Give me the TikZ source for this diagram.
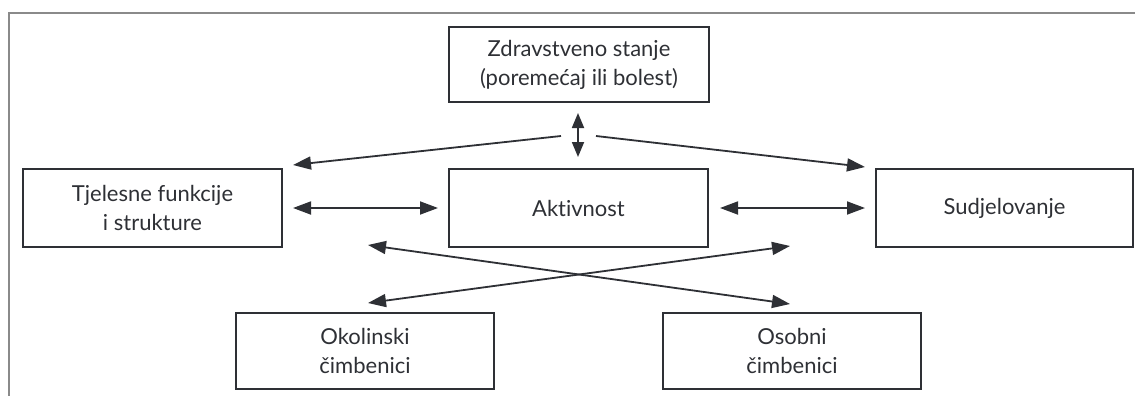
\documentclass[tikz,border=0pt]{standalone}
\usepackage{fontspec}
\setmainfont{Lato}[Ligatures={NoCommon,TeX}]
\usetikzlibrary{arrows.meta}
\definecolor{ink}{HTML}{2E3035}
\definecolor{frame}{HTML}{8A8A8A}
\begin{document}
\begin{tikzpicture}[x=1pt,y=-1pt,
  box/.style={draw=ink,line width=1.6pt,align=center,inner sep=0pt,
    font=\fontsize{22}{29}\selectfont,text=ink},
  conn/.style={draw=ink,line width=1.8pt,{Triangle[length=18pt,width=13pt]}-{Triangle[length=18pt,width=13pt]}},
  oneway/.style={draw=ink,line width=1.8pt,-{Triangle[length=18pt,width=13pt]}},
  vconn/.style={draw=ink,line width=1.8pt,{Triangle[length=15pt,width=12pt]}-{Triangle[length=15pt,width=12pt]}}]
\useasboundingbox (0,0) rectangle (1135,396);
\draw[frame,line width=1.5pt] (9,396) -- (9,13) -- (1135,13);
% boxes
\node[box,minimum width=260pt,minimum height=75pt] (zdr) at (579,64.5)
  {Zdravstveno stanje\\(poremećaj ili bolest)};
\node[box,minimum width=259pt,minimum height=78pt] (tje) at (152.5,208)
  {Tjelesne funkcije\\i strukture};
\node[box,minimum width=259pt,minimum height=78pt] (akt) at (578.5,208)
  {Aktivnost};
\node[box,minimum width=257pt,minimum height=78pt] (sud) at (1004.5,208)
  {Sudjelovanje};
\node[box,minimum width=258pt,minimum height=76pt] (oko) at (365,351)
  {Okolinski\\čimbenici};
\node[box,minimum width=258pt,minimum height=76pt] (oso) at (792,351)
  {Osobni\\čimbenici};
% connector end points
\coordinate (vt) at (578,113);
\coordinate (vb) at (578,157);
\coordinate (ls) at (561,136);
\coordinate (le) at (293,165);
\coordinate (rs) at (596,136);
\coordinate (re) at (865,167);
\coordinate (h1a) at (293,208);
\coordinate (h1b) at (438,208);
\coordinate (h2a) at (720,208);
\coordinate (h2b) at (865,208);
\coordinate (x1a) at (368,245);
\coordinate (x1b) at (790,304);
\coordinate (x2a) at (368,303);
\coordinate (x2b) at (790,246);
% connectors
\draw[vconn] (vt) -- (vb);
\draw[oneway] (ls) -- (le);
\draw[oneway] (rs) -- (re);
\draw[conn] (h1a) -- (h1b);
\draw[conn] (h2a) -- (h2b);
\draw[conn] (x1a) -- (x1b);
\draw[conn] (x2a) -- (x2b);
\end{tikzpicture}
\end{document}
